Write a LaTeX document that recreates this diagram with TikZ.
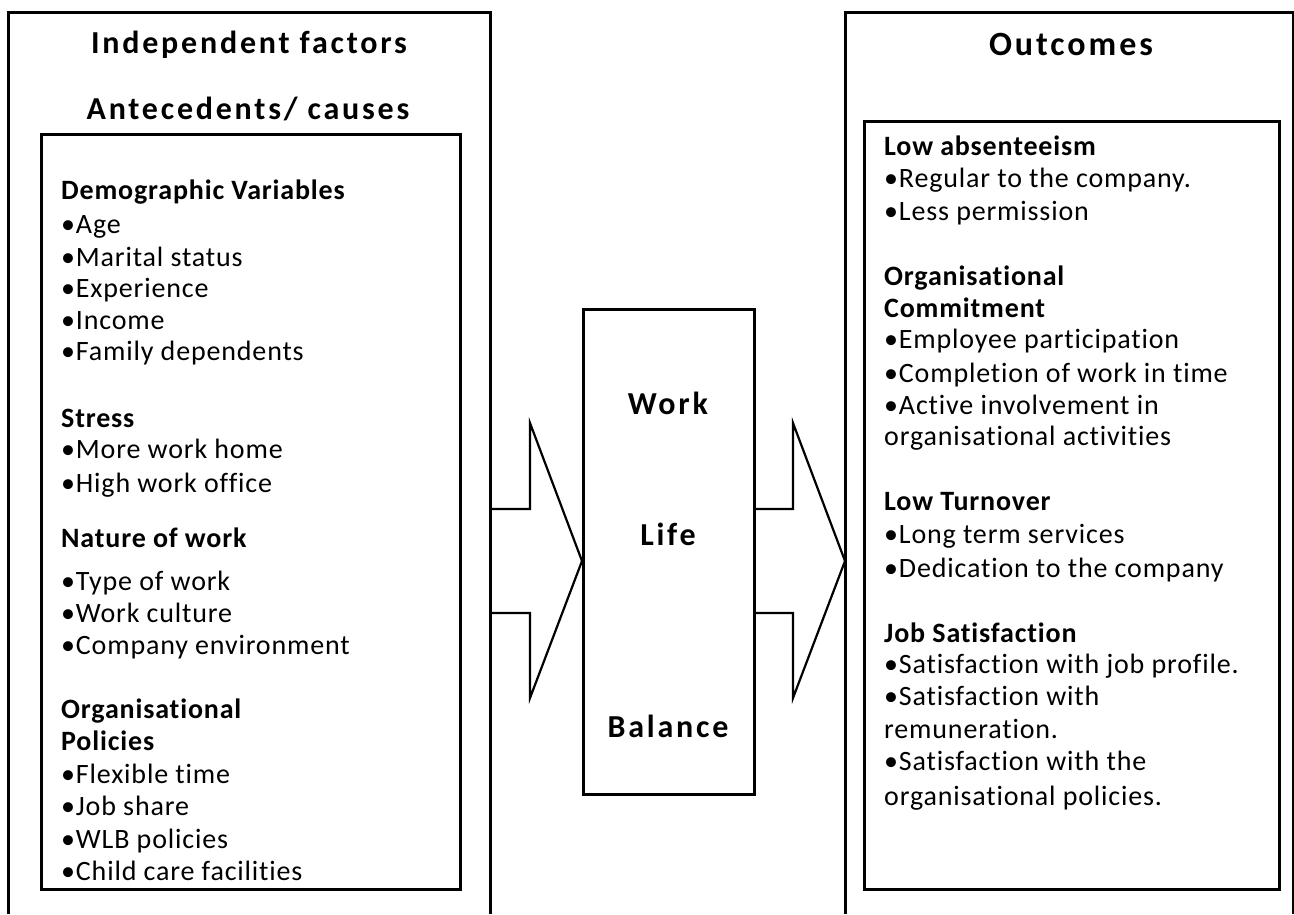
\documentclass[tikz,border=0pt]{standalone}
\usepackage{fontspec}
\setmainfont{Carlito}[Ligatures=NoCommon]
\newfontfamily\bodyfont{Carlito}[LetterSpace=3, Ligatures=NoCommon]
\newfontfamily\titlefont{Carlito}[LetterSpace=8.7, Ligatures=NoCommon]
\begin{document}
\begin{tikzpicture}[x=1pt,y=-1pt,
  frame/.style={line width=3pt},
  inbox/.style={draw, line width=3pt, inner sep=0pt, anchor=north west},
  corebox/.style={draw, line width=2.5pt, inner sep=0pt, anchor=north west},
  blockarrow/.style={line width=2.2pt, line join=miter},
  body/.style={anchor=base west, inner sep=0pt, font=\bodyfont\fontsize{28}{32}\selectfont},
  head/.style={body, font=\bodyfont\fontsize{28}{32}\selectfont\bfseries},
  title/.style={anchor=base, inner sep=0pt, font=\titlefont\fontsize{32}{38}\selectfont\bfseries},
  bigtitle/.style={title, font=\titlefont\fontsize{34}{40}\selectfont\bfseries},
  core/.style={anchor=base, inner sep=0pt, font=\titlefont\fontsize{32}{38}\selectfont\bfseries}]
\useasboundingbox (0,0) rectangle (1294,914);

% outer frames, open at the bottom
\draw[frame] (8,914) -- (8,12) -- (490,12) -- (490,914);
\draw[frame] (845,914) -- (845,12) -- (1293,12) -- (1293,914);

% titles
\node[title] (tind) at (249,53) {Independent factors};
\node[title] (tant) at (248,119) {Antecedents/ causes};
\node[bigtitle] (tout) at (1071,55) {Outcomes};

% inner boxes
\node[inbox, minimum width=419pt, minimum height=755pt] (causes) at (40,133) {};
\node[inbox, minimum width=415pt, minimum height=768pt] (effects) at (863,120) {};

% central box
\node[corebox, minimum width=171pt, minimum height=485pt] (wlb) at (582,308) {};
\node[core] (work) at (668,414) {Work};
\node[core] (life) at (668,545) {Life};
\node[core] (bal) at (668,737) {Balance};

% block arrows
\coordinate (lt) at (wlb.west |- 0,561);
\coordinate (rt) at (845,561);
\draw[blockarrow] (lt) ++(-92,-52) -- ++(40,0) -- ++(0,-86) -- (lt)
   -- ++(-52,137) -- ++(0,-85) -- ++(-40,0);
\draw[blockarrow] (rt) ++(-92,-52) -- ++(40,0) -- ++(0,-86) -- (rt)
   -- ++(-52,137) -- ++(0,-85) -- ++(-40,0);

% antecedents
\node[head] (l1)  at (61,199) {Demographic Variables};
\node[body] (l2)  at (61,233) {•Age};
\node[body] (l3)  at (61,266) {•Marital status};
\node[body] (l4)  at (61,297) {•Experience};
\node[body] (l5)  at (61,329) {•Income};
\node[body] (l6)  at (61,360) {•Family dependents};
\node[head] (l7)  at (61,427) {Stress};
\node[body] (l8)  at (61,458) {•More work home};
\node[body] (l9)  at (61,492) {•High work office};
\node[head] (l10) at (61,547) {Nature of work};
\node[body] (l11) at (61,590) {•Type of work};
\node[body] (l12) at (61,622) {•Work culture};
\node[body] (l13) at (61,654) {•Company environment};
\node[head] (l14) at (61,718) {Organisational};
\node[head] (l15) at (61,750) {Policies};
\node[body] (l16) at (61,783) {•Flexible time};
\node[body] (l17) at (61,815) {•Job share};
\node[body] (l18) at (61,848) {•WLB policies};
\node[body] (l19) at (61,880) {•Child care facilities};

% outcomes
\node[head] (r1)  at (884,155) {Low absenteeism};
\node[body] (r2)  at (884,187) {•Regular to the company.};
\node[body] (r3)  at (884,220) {•Less permission};
\node[head] (r4)  at (884,285) {Organisational};
\node[head] (r5)  at (884,317) {Commitment};
\node[body] (r6)  at (884,348) {•Employee participation};
\node[body] (r7)  at (884,382) {•Completion of work in time};
\node[body] (r8)  at (884,414) {•Active involvement in};
\node[body] (r9)  at (884,445) {organisational activities};
\node[head] (r10) at (884,510) {Low Turnover};
\node[body] (r11) at (884,543) {•Long term services};
\node[body] (r12) at (884,577) {•Dedication to the company};
\node[head] (r13) at (884,642) {Job Satisfaction};
\node[body] (r14) at (884,673) {•Satisfaction with job profile.};
\node[body] (r15) at (884,705) {•Satisfaction with};
\node[body] (r16) at (884,738) {remuneration.};
\node[body] (r17) at (884,770) {•Satisfaction with the};
\node[body] (r18) at (884,805) {organisational policies.};
\end{tikzpicture}
\end{document}
